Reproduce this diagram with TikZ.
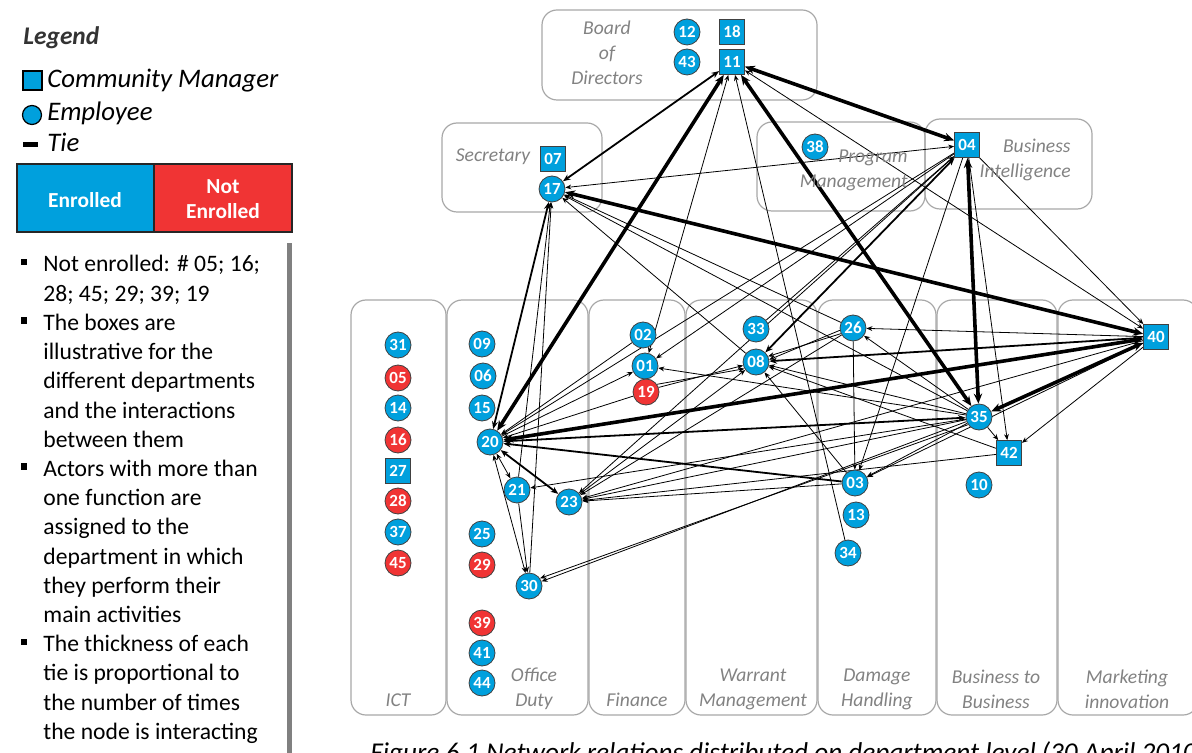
\documentclass[tikz,border=0pt]{standalone}
\usepackage{fontspec}
\setmainfont{Carlito}
\usetikzlibrary{arrows.meta}
\pgfdeclarelayer{under}
\pgfsetlayers{under,main}
\definecolor{enrolled}{RGB}{0,160,221}
\definecolor{notenr}{RGB}{240,52,52}
\definecolor{boxgray}{RGB}{168,168,168}
\definecolor{labgray}{RGB}{130,130,130}
\definecolor{bargray}{RGB}{128,128,128}

\tikzset{
  emp/.style={circle, draw=black!75, line width=0.4pt, fill=enrolled, text=white,
    font=\fontsize{8.5}{9}\selectfont\bfseries, inner sep=0pt, minimum size=13pt},
  empno/.style={emp, fill=notenr},
  mgr/.style={rectangle, draw=black!75, line width=0.4pt, fill=enrolled, text=white,
    font=\fontsize{8.5}{9}\selectfont\bfseries, inner sep=0pt, minimum size=12.5pt},
  dept/.style={draw=boxgray, line width=0.6pt, rounded corners=7.5pt},
  deptlabel/.style={text=labgray, font=\fontsize{9.8}{12}\selectfont\itshape, inner sep=0pt},
  tthin/.style={line width=0.4pt, >={Stealth[length=3pt,width=2.4pt]}},
  tmid/.style={line width=0.9pt, >={Stealth[length=3.8pt,width=3pt]}},
  tthick/.style={line width=1.8pt, >={Stealth[length=5pt,width=4.2pt]}},
  bodytext/.style={anchor=base west, inner sep=0pt, font=\fontsize{11.8}{14}\selectfont},
}

\begin{document}
\begin{tikzpicture}[x=0.5pt,y=-0.5pt]
\useasboundingbox (0,0) rectangle (1192,753);

% ---------------- legend ----------------
\node[anchor=base west, inner sep=0pt, font=\fontsize{12.7}{14}\selectfont\bfseries\itshape, text=black!80] (lgtitle) at (23,45) {Legend};
\draw[fill=enrolled, draw=black, line width=0.6pt] (23,71) rectangle (42,90);
\node[anchor=base west, inner sep=0pt, font=\fontsize{13.4}{15}\selectfont\itshape] (lgmgr) at (47,88) {Community Manager};
\draw[fill=enrolled, draw=black, line width=0.6pt] (32,115) circle (9.5);
\node[anchor=base west, inner sep=0pt, font=\fontsize{13.4}{15}\selectfont\itshape] (lgemp) at (47,121) {Employee};
\draw[line width=2.5pt] (23,144.5) -- (38,144.5);
\node[anchor=base west, inner sep=0pt, font=\fontsize{13.4}{15}\selectfont\itshape] (lgtie) at (47,152) {Tie};
\draw[fill=enrolled, draw=black!85, line width=0.7pt] (17,164) rectangle (154,232);
\draw[fill=notenr, draw=black!85, line width=0.7pt] (154,164) rectangle (292,232);
\node[text=white, font=\fontsize{10.7}{12.5}\selectfont\bfseries] (lgyes) at (85,200) {Enrolled};
\node[text=white, font=\fontsize{10.7}{12.5}\selectfont\bfseries, align=center] (lgno) at (223,199) {Not\\Enrolled};
\fill[bargray] (287,243) rectangle (292,753);

% bullet notes
\foreach \yy in {272,330.4,476.4,651.6} \fill (20.5,\yy-13) rectangle (27,\yy-6.5);
\node[bodytext] (t1) at (43,272) {Not enrolled: \# 05; 16;};
\node[bodytext] (t2) at (43,301.2) {28; 45; 29; 39; 19};
\node[bodytext] (t3) at (43,330.4) {The boxes are};
\node[bodytext] (t4) at (43,359.6) {illustrative for the};
\node[bodytext] (t5) at (43,388.8) {different departments};
\node[bodytext] (t6) at (43,418) {and the interactions};
\node[bodytext] (t7) at (43,447.2) {between them};
\node[bodytext] (t8) at (43,476.4) {Actors with more than};
\node[bodytext] (t9) at (43,505.6) {one function are};
\node[bodytext] (t10) at (43,534.8) {assigned to the};
\node[bodytext] (t11) at (43,564) {department in which};
\node[bodytext] (t12) at (43,593.2) {they perform their};
\node[bodytext] (t13) at (43,622.4) {main activities};
\node[bodytext] (t14) at (43,651.6) {The thickness of each};
\node[bodytext] (t15) at (43,680.8) {tie is proportional to};
\node[bodytext] (t16) at (43,710) {the number of times};
\node[bodytext] (t17) at (43,739.2) {the node is interacting};

% ---------------- department boxes ----------------
\begin{pgfonlayer}{under}
\draw[dept] (542,10) rectangle (817,100);
\draw[dept] (442,123) rectangle (602,212);
\draw[dept] (757,122) rectangle (925,211);
\draw[dept] (925,119) rectangle (1092,209);
\draw[dept] (351,300) rectangle (446,715);
\draw[dept] (447,300) rectangle (588,715);
\draw[dept] (589,300) rectangle (685,715);
\draw[dept] (686,300) rectangle (817,715);
\draw[dept] (818,300) rectangle (936,715);
\draw[dept] (937,300) rectangle (1057,715);
\draw[dept] (1058,300) rectangle (1198,715);
\end{pgfonlayer}

\node[deptlabel, align=center] (lbBoard) at (607,53) {Board\\[0.5pt]of\\[0.5pt]Directors};
\node[deptlabel] (lbSec) at (493,157) {Secretary};
\node[deptlabel, align=right, anchor=east] (lbProg) at (908,170) {Program\\[0.5pt]Management};
\node[deptlabel, align=right, anchor=east] (lbBI) at (1071,160) {Business\\[0.5pt]Intelligence};
\node[deptlabel] (lbICT) at (398,700) {ICT};
\node[deptlabel, align=center] (lbOff) at (534,689) {Office\\[0.5pt]Duty};
\node[deptlabel] (lbFin) at (637,700) {Finance};
\node[deptlabel, align=center] (lbWar) at (753,689) {Warrant\\[0.5pt]Management};
\node[deptlabel, align=center] (lbDam) at (877,689) {Damage\\[0.5pt]Handling};
\node[deptlabel, align=center] (lbB2B) at (996,689) {Business to\\[0.5pt]Business};
\node[deptlabel, align=center] (lbMkt) at (1127,689) {Marketing\\[0.5pt]innovation};

% ---------------- actors ----------------
\node[emp] (n12) at (687,32) {12};
\node[mgr] (n18) at (732,32) {18};
\node[emp] (n43) at (687,62) {43};
\node[mgr] (n11) at (732,62) {11};
\node[mgr] (n07) at (553,159) {07};
\node[emp] (n17) at (552,189) {17};
\node[emp] (n38) at (815,147) {38};
\node[mgr] (n04) at (967,145) {04};
% ICT
\node[emp]   (n31) at (398,345) {31};
\node[empno] (n05) at (398,378) {05};
\node[emp]   (n14) at (398,408) {14};
\node[empno] (n16) at (398,440) {16};
\node[mgr]   (n27) at (398,471) {27};
\node[empno] (n28) at (398,501) {28};
\node[emp]   (n37) at (398,532) {37};
\node[empno] (n45) at (398,563) {45};
% Office Duty
\node[emp]   (n09) at (482,344) {09};
\node[emp]   (n06) at (483,376) {06};
\node[emp]   (n15) at (482,408) {15};
\node[emp]   (n20) at (490,442) {20};
\node[emp]   (n21) at (517,490) {21};
\node[emp]   (n23) at (569,502) {23};
\node[emp]   (n25) at (482,534) {25};
\node[empno] (n29) at (482,565) {29};
\node[emp]   (n30) at (529,586) {30};
\node[empno] (n39) at (482,623) {39};
\node[emp]   (n41) at (482,653) {41};
\node[emp]   (n44) at (482,683) {44};
% Finance
\node[emp]   (n02) at (643,335) {02};
\node[emp]   (n01) at (645,366) {01};
\node[empno] (n19) at (646,392) {19};
% Warrant Management
\node[emp]   (n33) at (756,329) {33};
\node[emp]   (n08) at (756,362) {08};
% Damage Handling
\node[emp]   (n26) at (853,328) {26};
\node[emp]   (n03) at (855,483) {03};
\node[emp]   (n13) at (856,515) {13};
\node[emp]   (n34) at (848,553) {34};
% Business to Business
\node[emp]   (n35) at (979,417) {35};
\node[mgr]   (n42) at (1009,453) {42};
\node[emp]   (n10) at (979,485) {10};
% Marketing innovation
\node[mgr]   (n40) at (1156,337) {40};

% ---------------- ties ----------------
\begin{pgfonlayer}{under}
% strongest ties
\draw[tthick,<->] (n11) -- (n20);
\draw[tthick,<->] (n11) -- (n35);
\draw[tthick,<->] (n04) -- (n11);
\draw[tthick,<->] (n40) -- (n17);
\draw[tthick,<->] (n04) -- (n35);
\draw[tthick,<->] (n40) -- (n20);
\draw[tthick,<->] (n40) -- (n35);
% medium ties
\draw[tmid,<->] (n40) -- (n08);
\draw[tmid,<->] (n35) -- (n20);
\draw[tmid,<->] (n11) -- (n17);
\draw[tmid,<->] (n17) -- (n20);
\draw[tmid,->] (n03) -- (n20);
\draw[tmid,<->] (n04) -- (n08);
\draw[tmid,<->] (n20) -- (n23);
% weak ties
\draw[tthin,->] (n21) -- (n17);
\draw[tthin,->] (n30) -- (n17);
\draw[tthin,<->] (n04) -- (n17);
\draw[tthin,<->] (n11) -- (n01);
\draw[tthin,->] (n34) -- (n11);
\draw[tthin,<->] (n11) -- (n40);
\draw[tthin,->] (n04) -- (n20);
\draw[tthin,->] (n04) -- (n01);
\draw[tthin,->] (n04) -- (n03);
\draw[tthin,->] (n04) -- (n42);
\draw[tthin,->] (n04) -- (n40);
\draw[tthin,->] (n33) -- (n04);
\draw[tthin,->] (n04) -- (n23);
\draw[tthin,->] (n26) -- (n03);
\draw[tthin,->] (n26.190) -- (n08.10);
\draw[tthin,->] (n26.205) -- (n08.25);
\draw[tthin,->] (n40) -- (n26);
\draw[tthin,->] (n35) -- (n26);
\draw[tthin,->] (n26) -- (n23);
\draw[tthin,->] (n19.20) -- (n08.195);
\draw[tthin,->] (n19.35) -- (n08.210);
\draw[tthin,->] (n35) -- (n08);
\draw[tthin,->] (n03) -- (n08);
\draw[tthin,->] (n23) -- (n08);
\draw[tthin,->] (n42) -- (n08);
\draw[tthin,->] (n02) -- (n20);
\draw[tthin,->] (n20) -- (n01);
\draw[tthin,->] (n19) -- (n20);
\draw[tthin,<->] (n20) -- (n21);
\draw[tthin,<->] (n20) -- (n30);
\draw[tthin,->] (n21) -- (n30);
\draw[tthin,->] (n35) -- (n01);
\draw[tthin,->] (n35) -- (n21);
\draw[tthin,->] (n35.200) -- (n30.20);
\draw[tthin,->] (n35.215) -- (n30.35);
\draw[tthin,->] (n35) -- (n23);
\draw[tthin,->] (n40) -- (n23);
\draw[tthin,->] (n03) -- (n23);
\draw[tthin,->] (n42) -- (n23);
\draw[tthin,->] (n35) -- (n03);
\draw[tthin,->] (n40) -- (n03);
\draw[tthin,->] (n35) -- (n42);
\draw[tthin,->] (n40) -- (n42);
\draw[tthin,->] (n08) -- (n17);
\draw[tthin,->] (n26) -- (n17);
\draw[tthin,->] (n35) -- (n17);
\end{pgfonlayer}

% ---------------- caption ----------------
\node[anchor=base west, inner sep=0pt, font=\fontsize{13.6}{15}\selectfont\itshape] (caption) at (370,761)
  {Figure 6.1 Network relations distributed on department level (30 April 2010)};
\end{tikzpicture}
\end{document}
